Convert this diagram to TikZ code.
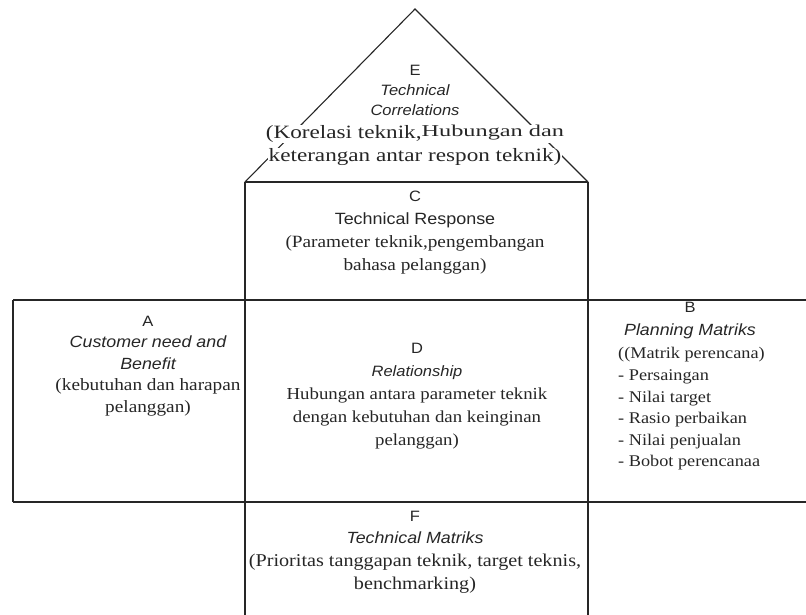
\documentclass[tikz,border=0pt]{standalone}
\usepackage{fontspec}
\usepackage{graphicx}
\setmainfont{Liberation Serif}[FakeStretch=1.12]
\newfontfamily\arialf{Liberation Sans}[FakeStretch=1.1]
\newcommand\sanst[1]{{\arialf\fontsize{15}{22}\selectfont #1}}
\newcommand\sansi[1]{{\arialf\itshape\fontsize{16.2}{22}\selectfont #1}}
\newcommand\sansis[1]{{\arialf\itshape\fontsize{15}{22}\selectfont #1}}
\tikzset{
  edge/.style={draw=black!85, line width=1.1pt},
  blocktext/.style={align=center, inner sep=0pt, text=black!85},
  roofline/.style={inner sep=0.3pt, fill=white, text=black!85,
    font=\fontsize{18.8}{22}\selectfont},
}
\begin{document}
\begin{tikzpicture}[x=1pt, y=-1pt]
\useasboundingbox (0,0) rectangle (806,615);
% frame coordinates
\coordinate (apex) at (415,9);
\coordinate (cl) at (245,182);
\coordinate (cr) at (588,182);
\coordinate (cbl) at (245,615);
\coordinate (cbr) at (588,615);
\coordinate (rowtl) at (13,300);
\coordinate (rowtr) at (806,300);
\coordinate (rowbl) at (13,502);
\coordinate (rowbr) at (806,502);
% roof
\draw[edge] (cl) -- (apex) -- (cr);
\draw[edge] (cl) -- (cr);
% verticals
\draw[edge] (cl) -- (cbl);
\draw[edge] (cr) -- (cbr);
% horizontals
\draw[edge] (rowtl) -- (rowtr);
\draw[edge] (rowbl) -- (rowbr);
\draw[edge] (rowtl) -- (rowbl);
% texts
\node[blocktext, font=\fontsize{15}{20}\selectfont] (Eh) at (415,90)
  {\sanst{E}\\ \sansis{Technical}\\ \sansis{Correlations}};
\node[roofline] (E1) at (415,134)
  {\scalebox{1.1}[1]{(Korelasi teknik,\raisebox{2pt}{\scalebox{1.05}[0.88]{Hubungan dan}}}};
\node[roofline] (E2) at (415,157) {\scalebox{1.1}[1]{keterangan antar respon teknik)}};
\node[blocktext, font=\fontsize{17.2}{23}\selectfont] (C) at (415,233)
  {\sanst{C}\\ {\arialf\fontsize{16.3}{23}\selectfont Technical Response}\\
   (Parameter teknik,pengembangan\\ bahasa pelanggan)};
\node[blocktext, font=\fontsize{17.2}{21.5}\selectfont] (A) at (148,366)
  {\sanst{A}\\ \sansi{Customer need and}\\ \sansi{Benefit}\\
   (kebutuhan dan harapan\\ pelanggan)};
\node[blocktext, font=\fontsize{16.8}{23}\selectfont] (D) at (417,396)
  {\sanst{D}\\ \sansis{Relationship}\\ Hubungan antara parameter teknik\\
   dengan kebutuhan dan keinginan\\ pelanggan)};
\node[blocktext, font=\fontsize{16.5}{23}\selectfont] (Bh) at (690,320.5)
  {\sanst{B}\\ \sansi{Planning Matriks}};
\node[blocktext, align=left, anchor=west, font=\fontsize{16.3}{21.6}\selectfont] (Bl) at (618,409)
  {((Matrik perencana)\\ - Persaingan\\ - Nilai target\\ - Rasio perbaikan\\
   - Nilai penjualan\\ - Bobot perencanaa};
\node[blocktext, font=\fontsize{18}{22.7}\selectfont] (F) at (415,552)
  {\sanst{F}\\ \sansi{Technical Matriks}\\
   (Prioritas tanggapan teknik, target teknis,\\ benchmarking)};
\end{tikzpicture}
\end{document}
